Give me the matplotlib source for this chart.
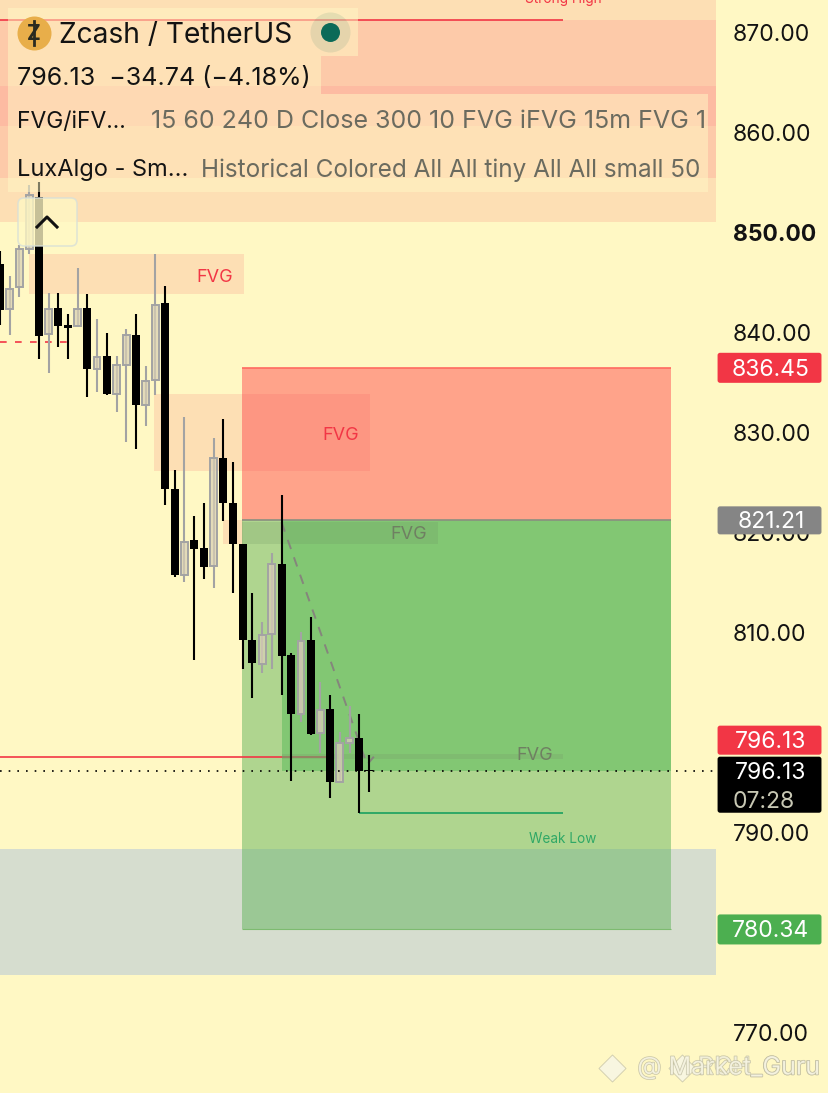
import matplotlib
matplotlib.use('Agg')
import matplotlib.pyplot as plt
import matplotlib.patheffects as pe
from matplotlib.patches import Rectangle, FancyBboxPatch

plt.rcParams['font.family'] = ['Inter', 'DejaVu Sans']

BG = '#FFF8C4'
RED = '#F23645'
BAR = 9.71  # pixels per candle

# candles, oldest first
opens = [846.8, 842.3, 844.5, 848.3, 853.5, 839.8, 842.4, 840.7, 840.6, 842.4,
         836.3, 837.6, 833.8, 836.7, 839.7, 832.7, 835.2, 842.9, 824.3, 815.8,
         819.2, 818.4, 816.7, 827.4, 822.9, 818.8, 809.3, 806.9, 809.9, 816.9,
         807.8, 801.9, 809.3, 800.0, 802.4, 795.1, 799.0, 799.5, 796.3]
closes = [842.2, 844.3, 848.3, 853.7, 839.6, 842.3, 840.6, 840.4, 842.3, 836.3,
          837.5, 833.8, 836.7, 839.7, 832.7, 835.1, 842.7, 824.3, 815.8, 819.0,
          818.3, 816.6, 827.4, 822.9, 818.8, 809.3, 807.0, 809.8, 816.9, 807.7,
          801.9, 809.2, 799.9, 802.3, 795.1, 799.0, 799.5, 796.2, 796.13]
highs = [848.1, 845.6, 848.7, 854.7, 855.0, 843.9, 843.9, 841.8, 846.4, 843.8,
         841.3, 839.9, 837.6, 840.3, 841.8, 836.6, 847.8, 844.6, 826.2, 831.5,
         821.6, 822.9, 829.4, 831.3, 827.0, 818.8, 814.0, 811.1, 817.9, 823.7,
         808.0, 810.1, 811.6, 805.1, 803.8, 800.1, 802.7, 801.9, 797.8]
lows = [840.7, 839.7, 843.5, 847.8, 837.3, 835.9, 838.5, 837.3, 840.5, 833.5,
        834.0, 833.7, 832.0, 829.0, 828.3, 830.6, 833.7, 822.7, 815.6, 815.1,
        807.3, 815.4, 814.5, 821.1, 814.0, 806.4, 803.5, 806.0, 806.4, 803.8,
        795.2, 801.1, 799.8, 798.0, 793.5, 795.0, 798.0, 792.0, 794.1]

price_ticks = [870, 860, 850, 840, 830, 820, 810, 790, 770]

last_price = 796.13
entry = 821.21
stop = 836.45
target = 780.34
swing_x = [29.0, 36.4, 37.8, 38.5]
swing_y = [821.0, 800.7, 796.8, 797.6]

fig = plt.figure(figsize=(8.29, 10.93), dpi=100, facecolor=BG)
ax = fig.add_axes([0, 0, 716 / 829, 1], facecolor=BG)
ax.set_xlim(0, 716 / BAR)
ax.set_ylim(764.0, 873.197)
for s in ax.spines.values():
    s.set_visible(False)
ax.set_xticks([])


def zone(x0, x1, top, bottom, color, alpha=1.0, z=1.0):
    ax.add_patch(Rectangle((x0, bottom), x1 - x0, top - bottom, fc=color, ec='none', alpha=alpha, zorder=z))


# supply zones
zone(0, 73.7, 873.2, 851.0, '#FDDFB4', z=1.0)
zone(0, 73.7, 871.2, 855.4, '#FDCAA9', z=1.1)
zone(0, 73.7, 864.6, 860.6, '#FDBBA2', z=1.2)
zone(3.0, 25.1, 847.8, 843.8, '#FDDFB4', z=1.3)
zone(15.9, 38.1, 833.8, 826.1, '#FDDFB4', z=1.3)
zone(23.0, 25.0, 821.2, 818.8, '#FDDFB4', z=1.3)
zone(0, 73.7, 788.4, 775.8, '#D6DDCF', z=1.4)

# short position box
zone(24.9, 69.1, stop, entry, '#FF3D45', alpha=0.45, z=1.5)
zone(24.9, 69.1, entry, target, '#61B45C', alpha=0.5, z=1.5)
zone(29.0, 69.1, entry, last_price, '#56BA58', alpha=0.5, z=1.6)
zone(24.9, 45.1, 821.0, 818.8, '#6B8F5F', alpha=0.2, z=1.7)
zone(29.0, 58.0, 797.9, 797.4, '#7A9A6A', alpha=0.25, z=1.7)
ax.hlines(stop, 24.9, 69.1, color='#FF6A60', lw=1.2, zorder=1.8)
ax.hlines(entry, 24.9, 69.1, color='#8A8F80', lw=1.2, zorder=1.8)
ax.hlines(target, 24.9, 69.1, color='#7DBB70', lw=0.8, zorder=1.8)

# structure lines
ax.hlines(871.2, 0, 58.0, color=RED, lw=1.2, zorder=1.9)
ax.hlines(797.6, 0, 29.0, color=RED, lw=1.2, zorder=1.9)
ax.hlines(797.6, 29.0, 33.6, color='#9A7A60', lw=1.2, zorder=1.9)
ax.hlines(839.0, 0, 7.5, color=RED, lw=1.2, linestyles=(0, (4, 5)), zorder=1.9)
ax.hlines(792.0, 37.0, 58.0, color='#2FA866', lw=1.4, zorder=1.9)
ax.plot(swing_x, swing_y, color='#85857C', lw=1.4, ls=(0, (5, 4.5)), zorder=1.9)

# candles
for i in range(len(opens)):
    o, c, h, l = opens[i], closes[i], highs[i], lows[i]
    if c < o:
        ax.vlines(i, l, h, color='black', lw=1.5, zorder=3)
        ax.bar(i, max(o - c, 0.1), bottom=c, width=0.82, color='black', zorder=3.1)
    else:
        ax.vlines(i, l, h, color='#A3A3A3', lw=1.5, zorder=3)
        ax.bar(i, c - o, bottom=o, width=0.7, fc=BG, alpha=0.6, zorder=3.05)
        ax.bar(i, c - o, bottom=o, width=0.7, fc=(0.65, 0.61, 0.63, 0.3), ec='#A3A3A3', lw=1.4, zorder=3.1)

ax.hlines(last_price, 0, 73.4, color='black', lw=1.2, linestyles=(0, (1, 4.2)), zorder=4)

# zone labels
ax.text(22.1, 845.5, 'FVG', color=RED, fontsize=13, ha='center', va='center', zorder=5)
ax.text(35.1, 829.7, 'FVG', color=RED, fontsize=13, ha='center', va='center', zorder=5)
ax.text(42.1, 819.8, 'FVG', color='#6F7F62', fontsize=13, ha='center', va='center', zorder=5)
ax.text(55.1, 797.7, 'FVG', color='#6F7F62', fontsize=13, ha='center', va='center', zorder=5)
ax.text(57.9, 789.4, 'Weak Low', color='#2FA866', fontsize=9.8, ha='center', va='center', zorder=5)

# price scale
ax.yaxis.tick_right()
ax.set_yticks(price_ticks)
ax.set_yticklabels(['%.2f' % t for t in price_ticks], fontsize=16.5, color='#131313')
ax.tick_params(axis='y', length=0, pad=12)
for lab, t in zip(ax.get_yticklabels(), price_ticks):
    if t == 850:
        lab.set_fontweight('bold')


def tag(top, bottom, color, z=10):
    ax.add_patch(FancyBboxPatch((74.0, bottom + 0.2), 10.5, top - bottom - 0.4, boxstyle='round,pad=0.1,rounding_size=0.25',
                                fc=color, ec='none', clip_on=False, zorder=z))


tag(stop + 1.6, stop - 1.6, RED)
ax.text(79.4, stop - 0.2, '%.2f' % stop, color='white', fontsize=16.5, ha='center', va='center', zorder=11)
tag(entry + 1.5, entry - 1.5, '#858585')
ax.text(79.4, entry - 0.2, '%.2f' % entry, color='white', fontsize=16.5, ha='center', va='center', zorder=11)
tag(target + 1.6, target - 1.6, '#4CAF50')
ax.text(79.4, target - 0.2, '%.2f' % target, color='white', fontsize=16.5, ha='center', va='center', zorder=11)
tag(800.8, 797.7, RED)
ax.text(79.4, 799.05, '%.2f' % last_price, color='white', fontsize=16.5, ha='center', va='center', zorder=11)
tag(797.7, 791.9, 'black', z=12)
ax.text(79.4, last_price - 0.15, '%.2f' % last_price, color='white', fontsize=16.5, ha='center', va='center', zorder=13)
ax.text(75.5, 793.1, '07:28', color='#C8C8B4', fontsize=16.5, ha='left', va='center', zorder=13)

# header overlay, laid out in screen pixels
ui = fig.add_axes([0, 0, 1, 1], facecolor='none')
ui.set_xlim(0, 829)
ui.set_ylim(1093, 0)
ui.axis('off')

ui.text(563, -1, 'Strong High', color=RED, fontsize=9.8, ha='center', va='center')

for x0, x1, y0, y1 in [(8, 358, 8, 56), (8, 321, 56, 94), (8, 708, 94, 192)]:
    ui.add_patch(Rectangle((x0, y0), x1 - x0, y1 - y0, fc=BG, ec='none', alpha=0.5))

ui.scatter([34], [33], s=(34 * 0.72) ** 2, c='#E8AE4A', linewidths=0)
ui.text(34, 34, 'Z', color='#2A2A20', fontsize=15, fontweight='bold', ha='center', va='center')
ui.plot([34, 34], [21, 45], color='#2A2A20', lw=2)
ui.text(59, 35, 'Zcash / TetherUS', color='#131313', fontsize=20.3, ha='left', va='center')
ui.scatter([330], [32], s=(40 * 0.72) ** 2, c='#0B6A58', alpha=0.1, linewidths=0)
ui.scatter([330], [32], s=(19 * 0.72) ** 2, c='#0B6A58', linewidths=0)
ui.text(17, 78, '796.13  \u221234.74 (\u22124.18%)', color='#131313', fontsize=18, ha='left', va='center')
ui.text(17, 122, 'FVG/iFV...', color='#131313', fontsize=16.5, ha='left', va='center')
ui.text(151, 122, '15 60 240 D Close 300 10 FVG iFVG 15m FVG 1', color='#6B6B5F', fontsize=18, ha='left', va='center')
ui.text(17, 170, 'LuxAlgo - Sm...', color='#131313', fontsize=17, ha='left', va='center')
ui.text(201, 170, 'Historical Colored All All tiny All All small 50', color='#6B6B5F', fontsize=17.5, ha='left', va='center')

ui.add_patch(FancyBboxPatch((20, 200), 55, 44, boxstyle='round,pad=2,rounding_size=6', fc=BG, ec='#D8E0D8', lw=1.2, alpha=0.78))
ui.plot([37, 47, 57], [227, 217, 227], color='#111111', lw=2.2)

# watermark
shadow = [pe.withStroke(linewidth=1.0, foreground='#BDBA9F')]
ui.scatter([612, 682], [1068, 1068], s=190, marker='D', c='#F8F6E4', edgecolors='#C9C6A8', linewidths=0.6, alpha=0.9)
ui.text(820, 1068, 'RCH_Guru', color='#F4F2DC', fontsize=18, ha='right', va='center', path_effects=shadow, alpha=0.8)
ui.text(820, 1068, '@ Market_Guru', color='#F8F6E4', fontsize=18, ha='right', va='center', path_effects=shadow, alpha=0.8)

fig.savefig('out.png', dpi=100, facecolor=BG)
